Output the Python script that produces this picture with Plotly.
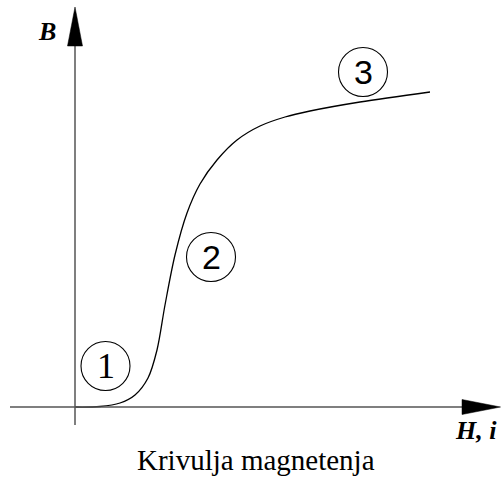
import plotly.graph_objects as go

# Magnetisation curve (arbitrary units: H along x, B along y)
H = [0, 2.5, 4.5, 6.0, 7.3, 8.2, 9.0, 10.0, 11.2, 12.5, 14.2, 16.2, 18.5, 21.0, 23.5, 28.5, 35.5]
B = [0, 0.05, 0.4, 1.2, 2.9, 5.7, 10.2, 15.2, 19.4, 22.3, 24.7, 26.7, 28.1, 29.0, 29.6, 30.5, 31.5]

SERIF = "Times New Roman, Liberation Serif, DejaVu Serif, serif"
SANS = "Arial, Liberation Sans, sans-serif"

# Region markers (circled numbers)
region_labels = ["1", "2", "3"]
region_H = [3.05, 13.6, 28.8]
region_B = [4.1, 15.0, 33.5]
region_fonts = [SERIF, SANS, SANS]
region_sizes = [36, 34, 34]

x_label = "H, i"
y_label = "B"
caption = "Krivulja magnetenja"

X_RANGE = [-7.5, 42.7]
Y_RANGE = [-7.1, 40.7]

fig = go.Figure()
fig.add_trace(go.Scatter(x=H, y=B, mode="lines",
                         line=dict(color="black", width=1.3, shape="spline", smoothing=0.9),
                         hoverinfo="skip", showlegend=False))

shapes = []
# axes lines
shapes.append(dict(type="line", x0=0, x1=0, y0=-1.8, y1=36.5, xref="x", yref="y",
                   line=dict(color="#555555", width=1.5)))
shapes.append(dict(type="line", x0=-6.5, x1=38.9, y0=0, y1=0, xref="x", yref="y",
                   line=dict(color="#555555", width=1.5)))
# arrow heads
shapes.append(dict(type="path", path="M -0.75 36.1 L 0.75 36.1 L 0 40.0 Z", xref="x", yref="y",
                   fillcolor="black", line=dict(color="black", width=0.5)))
shapes.append(dict(type="path", path="M 38.7 0.75 L 38.7 -0.75 L 42.55 0 Z", xref="x", yref="y",
                   fillcolor="black", line=dict(color="black", width=0.5)))

annotations = []
r = 2.45
for lab, hx, by, fnt, sz in zip(region_labels, region_H, region_B, region_fonts, region_sizes):
    shapes.append(dict(type="circle", xref="x", yref="y", x0=hx - r, x1=hx + r, y0=by - r, y1=by + r,
                       line=dict(color="black", width=1.1), fillcolor="rgba(0,0,0,0)"))
    annotations.append(dict(x=hx, y=by, xref="x", yref="y", text=lab, showarrow=False,
                            font=dict(family=fnt, size=sz, color="black"),
                            xanchor="center", yanchor="middle"))

annotations.append(dict(x=-2.85, y=37.6, xref="x", yref="y", text="<b><i>" + y_label + "</i></b>",
                        showarrow=False, font=dict(family=SERIF, size=26, color="black"),
                        xanchor="center", yanchor="middle"))
annotations.append(dict(x=40.1, y=-2.3, xref="x", yref="y", text="<b><i>" + x_label + "</i></b>",
                        showarrow=False, font=dict(family=SERIF, size=26, color="black"),
                        xanchor="center", yanchor="middle"))
annotations.append(dict(x=18.05, y=-5.3, xref="x", yref="y", text=caption,
                        showarrow=False, font=dict(family=SERIF, size=29, color="black"),
                        xanchor="center", yanchor="middle"))

fig.update_layout(
    width=502, height=478,
    margin=dict(l=0, r=0, t=0, b=0),
    paper_bgcolor="white", plot_bgcolor="white",
    xaxis=dict(range=X_RANGE, visible=False, fixedrange=True),
    yaxis=dict(range=Y_RANGE, visible=False, fixedrange=True),
    shapes=shapes, annotations=annotations,
    showlegend=False,
)

fig.write_html("out.html", config={"displayModeBar": False},
               post_script="document.body.style.margin='0';document.body.style.overflow='hidden';")
